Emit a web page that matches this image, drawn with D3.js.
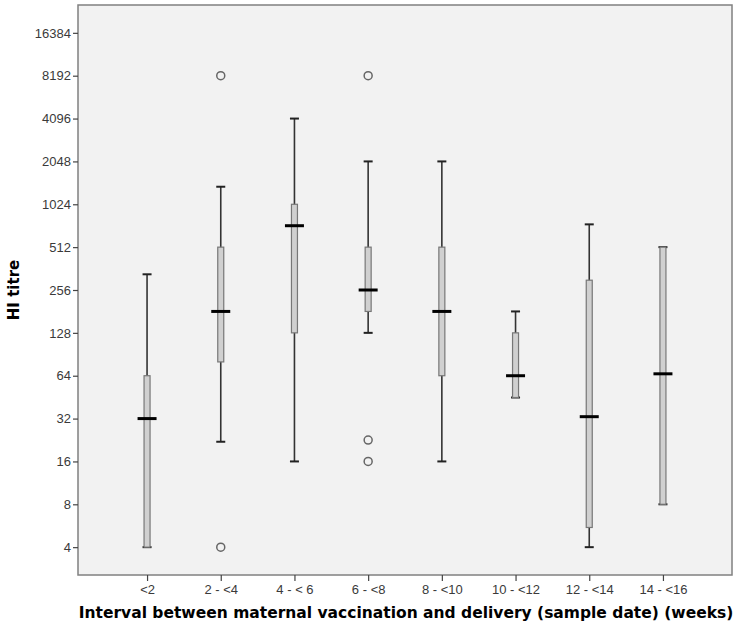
<!DOCTYPE html>
<html>
<head>
<meta charset="utf-8">
<script src="https://cdn.jsdelivr.net/npm/d3@7"></script>
<style>
  body { margin: 0; background: #fff; }
  svg text { font-family: "Liberation Sans", Arial, sans-serif; }
</style>
</head>
<body>
<div id="chart"></div>
<script>
// groups and box statistics (HI titre)
var categories = ["<2", "2 - <4", "4 - < 6", "6 - <8", "8 - <10", "10 - <12", "12 - <14", "14 - <16"];
var whiskerLow = [4, 22, 16, 128, 16, 45, 4, 8];
var q1 = [4, 80, 128, 181, 64, 45, 5.5, 8];
var medians = [32, 181, 724, 256, 181, 64, 33, 66];
var q3 = [64, 512, 1024, 512, 512, 128, 300, 512];
var whiskerHigh = [330, 1360, 4096, 2048, 2048, 181, 740, 512];
// outliers: [group index, value]
var outliers = [[1, 8192], [1, 4], [3, 8192], [3, 22.6], [3, 16]];
var yTicks = [4, 8, 16, 32, 64, 128, 256, 512, 1024, 2048, 4096, 8192, 16384];

var width = 738, height = 633;
var plot = { left: 78, right: 732, top: 5, bottom: 575 };

var svg = d3.select("#chart").append("svg")
  .attr("width", width)
  .attr("height", height);

// plot background
svg.append("rect")
  .attr("x", plot.left)
  .attr("y", plot.top)
  .attr("width", plot.right - plot.left)
  .attr("height", plot.bottom - plot.top)
  .attr("fill", "#f2f2f2")
  .attr("stroke", "#808080")
  .attr("stroke-width", 1.5);

var x = d3.scalePoint().domain(categories).range([plot.left, plot.right]).padding(0.937);
var y = d3.scaleLog().base(2).domain([2.55, 25700]).range([plot.bottom, plot.top]);

// axes
var yAxis = svg.append("g")
  .attr("transform", "translate(" + plot.left + ",0)")
  .call(d3.axisLeft(y).tickValues(yTicks).tickFormat(d3.format("d")).tickSize(5).tickPadding(2));
yAxis.select(".domain").remove();
yAxis.selectAll("line").attr("stroke", "#444").attr("stroke-width", 1.2);
yAxis.selectAll("text").attr("fill", "#3a3a3a").style("font-size", "13px");

var xAxis = svg.append("g")
  .attr("transform", "translate(0," + plot.bottom + ")")
  .call(d3.axisBottom(x).tickSize(6).tickPadding(4));
xAxis.select(".domain").remove();
xAxis.selectAll("line").attr("stroke", "#444").attr("stroke-width", 1.2);
xAxis.selectAll("text").attr("fill", "#3a3a3a").style("font-size", "13px");

// axis titles
svg.append("text")
  .attr("transform", "translate(19,290) rotate(-90)")
  .attr("text-anchor", "middle")
  .style("font-family", "DejaVu Sans, sans-serif")
  .style("font-weight", "bold")
  .style("font-size", "15px")
  .text("HI titre");

svg.append("text")
  .attr("x", 406)
  .attr("y", 618)
  .attr("text-anchor", "middle")
  .style("font-family", "DejaVu Sans, sans-serif")
  .style("font-weight", "bold")
  .style("font-size", "15.5px")
  .text("Interval between maternal vaccination and delivery (sample date) (weeks)");

// boxes
var boxW = 6, capW = 9, medW = 19;
var groups = svg.selectAll(".box")
  .data(categories)
  .enter()
  .append("g")
  .attr("class", "box");

// whiskers
groups.append("line")
  .attr("x1", function (d) { return x(d); })
  .attr("x2", function (d) { return x(d); })
  .attr("y1", function (d, i) { return y(whiskerHigh[i]); })
  .attr("y2", function (d, i) { return y(whiskerLow[i]); })
  .attr("stroke", "#333")
  .attr("stroke-width", 1.6);

[whiskerHigh, whiskerLow].forEach(function (arr) {
  groups.append("line")
    .attr("x1", function (d) { return x(d) - capW / 2; })
    .attr("x2", function (d) { return x(d) + capW / 2; })
    .attr("y1", function (d, i) { return y(arr[i]); })
    .attr("y2", function (d, i) { return y(arr[i]); })
    .attr("stroke", "#222")
    .attr("stroke-width", 2);
});

groups.append("rect")
  .attr("x", function (d) { return x(d) - boxW / 2; })
  .attr("y", function (d, i) { return y(q3[i]); })
  .attr("width", boxW)
  .attr("height", function (d, i) { return y(q1[i]) - y(q3[i]); })
  .attr("fill", "#d0d0d0")
  .attr("stroke", "#777")
  .attr("stroke-width", 1.2);

groups.append("line")
  .attr("x1", function (d) { return x(d) - medW / 2; })
  .attr("x2", function (d) { return x(d) + medW / 2; })
  .attr("y1", function (d, i) { return y(medians[i]); })
  .attr("y2", function (d, i) { return y(medians[i]); })
  .attr("stroke", "#000")
  .attr("stroke-width", 3);

// outliers
svg.selectAll(".outlier")
  .data(outliers)
  .enter()
  .append("circle")
  .attr("class", "outlier")
  .attr("cx", function (d) { return x(categories[d[0]]); })
  .attr("cy", function (d) { return y(d[1]); })
  .attr("r", 4)
  .attr("fill", "none")
  .attr("stroke", "#666")
  .attr("stroke-width", 1.5);
</script>
</body>
</html>
